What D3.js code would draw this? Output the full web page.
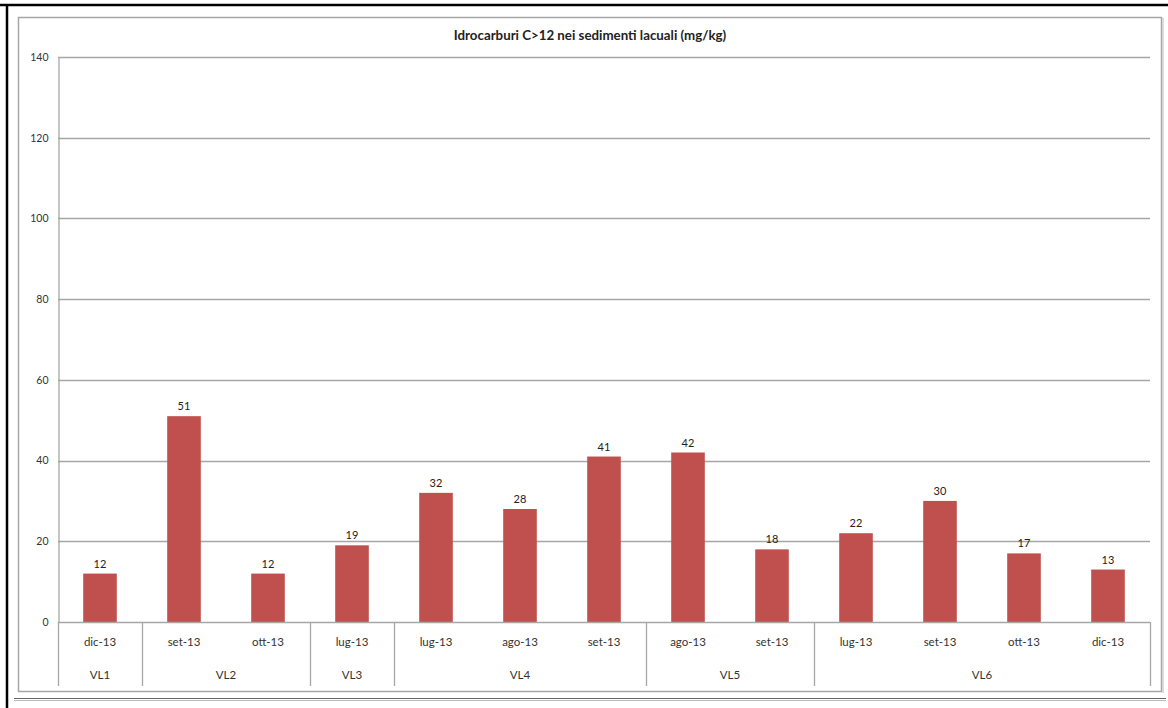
<!DOCTYPE html>
<html>
<head>
<meta charset="utf-8">
<script src="https://cdn.jsdelivr.net/npm/d3@7"></script>
<style>
  html, body { margin: 0; padding: 0; background: #fff; }
  svg { display: block; font-family: Lato, "Open Sans", sans-serif; }
</style>
</head>
<body>
<svg id="chart" width="1168" height="708"></svg>
<script>
// Sampling stations and dates
const stations = ["VL1", "VL2", "VL2", "VL3", "VL4", "VL4", "VL4", "VL5", "VL5", "VL6", "VL6", "VL6", "VL6"];
const months   = ["dic-13", "set-13", "ott-13", "lug-13", "lug-13", "ago-13", "set-13", "ago-13", "set-13", "lug-13", "set-13", "ott-13", "dic-13"];
const values   = [12, 51, 12, 19, 32, 28, 41, 42, 18, 22, 30, 17, 13];
const yTicks   = [0, 20, 40, 60, 80, 100, 120, 140];
const title    = "Idrocarburi C>12 nei sedimenti lacuali (mg/kg)";

const svg = d3.select("#chart");
const plot = { left: 58, right: 1150, top: 57, bottom: 622 };
const catBottom = 686;

// Page frame
svg.append("line").attr("x1", 0).attr("x2", 1168).attr("y1", 5).attr("y2", 5)
  .attr("stroke", "#000").attr("stroke-width", 2.5);
svg.append("line").attr("x1", 7).attr("x2", 7).attr("y1", 4).attr("y2", 708)
  .attr("stroke", "#000").attr("stroke-width", 2.5);
svg.append("line").attr("x1", 14).attr("x2", 1166).attr("y1", 698.5).attr("y2", 698.5)
  .attr("stroke", "#666").attr("stroke-width", 1.2);
svg.append("line").attr("x1", 14).attr("x2", 1166).attr("y1", 700.5).attr("y2", 700.5)
  .attr("stroke", "#bbb").attr("stroke-width", 1);

// Chart area border
svg.append("rect").attr("x", 18.5).attr("y", 17.5).attr("width", 1143).attr("height", 674)
  .attr("fill", "none").attr("stroke", "#a6a6a6").attr("stroke-width", 1.5);
svg.append("line").attr("x1", 1163).attr("x2", 1163).attr("y1", 18).attr("y2", 693)
  .attr("stroke", "#d0d0d0").attr("stroke-width", 1.5);

// Title
svg.append("text").attr("x", 590).attr("y", 40).attr("text-anchor", "middle")
  .attr("font-size", 13.3).attr("font-weight", "bold").attr("fill", "#222").text(title);

const idx = d3.range(values.length);
const x = d3.scaleBand().domain(idx).range([plot.left, plot.right]).paddingInner(0).paddingOuter(0);
const y = d3.scaleLinear().domain([0, 140]).range([plot.bottom, plot.top]);

// Gridlines
svg.append("g").selectAll("line").data(yTicks.filter(t => t > 0)).join("line")
  .attr("x1", plot.left).attr("x2", plot.right)
  .attr("y1", d => Math.round(y(d)) + 0.5).attr("y2", d => Math.round(y(d)) + 0.5)
  .attr("stroke", "#a6a6a6").attr("stroke-width", 1.3);

// Y axis
const yAxis = d3.axisLeft(y).tickValues(yTicks).tickSize(0).tickPadding(10);
const gy = svg.append("g").attr("transform", `translate(${plot.left + 0.5},0)`).call(yAxis);
gy.select(".domain").attr("stroke", "#a6a6a6").attr("stroke-width", 1.3);
gy.selectAll("text").attr("font-size", 10.5).attr("fill", "#333").attr("font-family", "Lato, sans-serif");

// Bars
const barW = x.bandwidth() / 2.5;
svg.append("g").selectAll("rect").data(idx).join("rect")
  .attr("x", i => x(i) + (x.bandwidth() - barW) / 2)
  .attr("y", i => y(values[i]))
  .attr("width", barW)
  .attr("height", i => y(0) - y(values[i]))
  .attr("fill", "#c0504d");

// Value labels
svg.append("g").selectAll("text").data(idx).join("text")
  .attr("x", i => x(i) + x.bandwidth() / 2)
  .attr("y", i => y(values[i]) - 6)
  .attr("text-anchor", "middle").attr("font-size", 11).attr("fill", "#222")
  .text(i => values[i]);

// Baseline
svg.append("line").attr("x1", plot.left).attr("x2", plot.right)
  .attr("y1", y(0) + 0.5).attr("y2", y(0) + 0.5)
  .attr("stroke", "#a6a6a6").attr("stroke-width", 1.3);

// Month labels
svg.append("g").selectAll("text").data(idx).join("text")
  .attr("x", i => x(i) + x.bandwidth() / 2).attr("y", 646)
  .attr("text-anchor", "middle").attr("font-size", 11.5).attr("fill", "#333")
  .text(i => months[i]);

// Station groups: separators and labels
const groups = [];
stations.forEach((s, i) => {
  if (groups.length && groups[groups.length - 1].name === s) groups[groups.length - 1].end = i;
  else groups.push({ name: s, start: i, end: i });
});
const bounds = [plot.left].concat(groups.map(g => x(g.end) + x.bandwidth()));
svg.append("g").selectAll("line").data(bounds).join("line")
  .attr("x1", d => Math.round(d) + 0.5).attr("x2", d => Math.round(d) + 0.5)
  .attr("y1", y(0)).attr("y2", catBottom)
  .attr("stroke", "#a6a6a6").attr("stroke-width", 1.3);
svg.append("g").selectAll("text").data(groups).join("text")
  .attr("x", g => (x(g.start) + x(g.end) + x.bandwidth()) / 2).attr("y", 679)
  .attr("text-anchor", "middle").attr("font-size", 11.5).attr("fill", "#333")
  .text(g => g.name);
</script>
</body>
</html>
